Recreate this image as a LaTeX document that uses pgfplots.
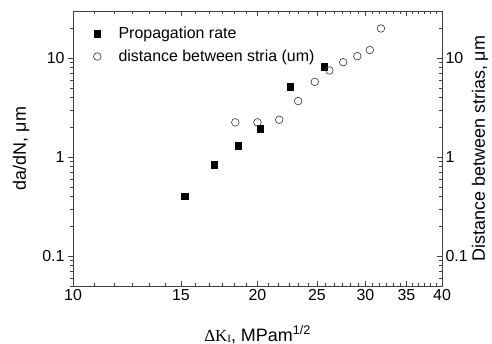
\documentclass[border=0pt]{standalone}
\usepackage{fontspec}
\setmainfont{Liberation Sans}
\newfontfamily\serifK{Liberation Serif}
\usepackage{pgfplots}
\pgfplotsset{compat=1.18}
\pgfplotsset{
  myaxbase/.style={
    scale only axis, width=369bp, height=275bp,
    xmin=10, xmax=40, ymin=0.05, ymax=30,
    axis line style={line width=0.9bp, black!75},
    every tick/.append style={line width=0.7bp, black!75},
    major tick length=5bp, minor tick length=3bp,
    tick label style={font=\fontsize{16}{16}\selectfont},
    label style={font=\fontsize{18}{18}\selectfont},
  },
  myyax/.style={
    ytick={0.1,1,10}, yticklabels={0.1,1,10},
    minor ytick={0.05,0.06,0.07,0.08,0.09,0.2,0.3,0.4,0.5,0.6,0.7,0.8,0.9,2,3,4,5,6,7,8,9,20},
  },
}
\pgfplotstableread{
x y
15.2 0.405
17.0 0.837
18.6 1.31
20.2 1.93
22.6 5.19
25.7 8.25
}\rate
\pgfplotstableread{
x y
18.4 2.25
20.0 2.25
21.7 2.39
23.3 3.69
24.8 5.77
26.2 7.52
27.6 9.12
29.1 10.5
30.5 12.1
31.8 20.0
}\stria
\begin{document}
\begin{tikzpicture}
\path[use as bounding box] (-73bp,-58bp) rectangle (419bp,286bp);
\begin{loglogaxis}[myaxbase,
  xtick={10,15,20,25,30,35,40}, xticklabels={10,15,20,25,30,35,40},
  minor xtick={10.8333,11.6667,12.5,13.3333,14.1667,
               15.8333,16.6667,17.5,18.3333,19.1667,
               20.8333,21.6667,22.5,23.3333,24.1667,
               25.8333,26.6667,27.5,28.3333,29.1667,
               30.8333,31.6667,32.5,33.3333,34.1667,
               35.8333,36.6667,37.5,38.3333,39.1667},
  xtick pos=both, tick align=inside,
  ymajorticks=false, yminorticks=false,
  xlabel={{\serifK\fontsize{17}{17}\selectfont ΔK\raisebox{-0.15ex}{\fontsize{11}{11}\selectfont I}}, MPam\textsuperscript{1/2}},
  xlabel style={at={(axis description cs:0.5,0)}, anchor=base, yshift=-55bp},
  legend style={draw=none, fill=none, at={(axis description cs:0.055,0.95)}, anchor=north west,
    font=\fontsize{16}{16}\selectfont, inner sep=0pt, row sep=6bp, column sep=15.5bp},
  legend cell align=left,
]
\addplot[only marks, mark=square*, mark size=3.3bp, black]
  table[x=x,y=y] {\rate};
\addlegendentry{Propagation rate}
\addplot[only marks, mark=o, mark size=3.8bp, black!80, line width=0.6bp]
  table[x=x,y=y] {\stria};
\addlegendentry{distance between stria (um)}
\end{loglogaxis}
\begin{loglogaxis}[myaxbase, myyax, hide x axis, axis y line*=left, tick align=outside,
  ylabel={da/dN, μm},
  ylabel style={at={(axis description cs:-0.141,0.5)}, anchor=center},
]
\end{loglogaxis}
\begin{loglogaxis}[myaxbase, myyax, hide x axis, axis y line*=right, tick align=inside,
  ylabel={Distance between strias, μm},
  ylabel style={at={(axis description cs:1.103,0.5)}, anchor=center},
]
\end{loglogaxis}
\end{tikzpicture}
\end{document}
